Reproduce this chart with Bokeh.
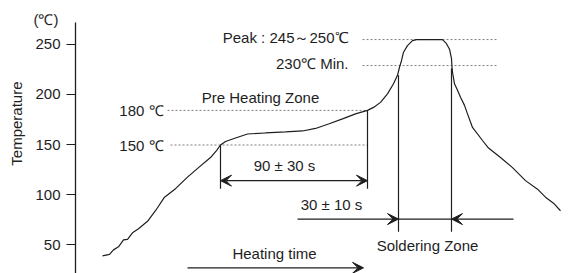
import math
from bokeh.plotting import figure
from bokeh.models import Range1d, FixedTicker, Arrow, VeeHead, Title
from bokeh.core.properties import value
from bokeh.embed import file_html
from bokeh.resources import INLINE

# ---- data (x in arbitrary time units, y in deg C) ----
curve_x = [102, 109, 113, 118, 123, 127, 132, 138, 147, 155, 164, 175, 187, 198, 210, 216, 220,
           225, 235, 247, 265, 285, 302, 315, 328, 342, 355, 367, 373, 380, 387, 393, 397, 399,
           401, 403, 407, 412, 416, 442, 446, 449, 451, 451.5, 452, 454, 457, 460, 464, 467,
           472, 482, 488, 500, 512, 525, 537, 545, 553, 560]
curve_t = [39, 40.5, 45, 48, 55, 55.5, 62, 66, 73.5, 84, 97.5, 106, 117.5, 127, 137, 144, 149.5,
           153, 156.5, 160.5, 161.5, 162.5, 163.5, 166, 170.5, 175.5, 180.5, 184, 187, 192, 200.5,
           210.5, 219, 227, 233.5, 242, 248.5, 253.5, 254.6, 254.6, 250.5, 245, 235.5, 227, 222,
           210.5, 204, 197, 189, 180.5, 167, 154, 146.5, 137, 127, 114, 105.5, 97.5, 91.5, 84]

y_ticks = [50, 100, 150, 200, 250]

# reference (dashed) levels
ref_x0 = [167, 170, 362, 362]
ref_x1 = [367, 367, 498, 498]
ref_t = [184, 149.5, 254.6, 228.7]

# vertical marker lines
vline_x = [220, 367, 398, 451]
vline_t0 = [149.5, 184, 219, 226]
vline_t1 = [106, 106, 63, 63]

# texts
txt_right = ["180 ℃", "150 ℃", "Peak : 245～250℃", "230℃ Min."]
txt_right_x = [163, 163, 348, 348]
txt_right_t = [184, 149.5, 256.3, 230.5]

txt_center = ["Pre Heating Zone", "90 ± 30 s", "30 ± 10 s", "Soldering Zone", "Heating time"]
txt_center_x = [260, 284, 331, 427, 274]
txt_center_t = [197.3, 129, 90.2, 49.4, 41]

FONT = "Liberation Sans"
FS = "15px"
INK = "#1e1e1e"

p = figure(width=579, height=273, output_backend="svg", toolbar_location=None,
           x_range=Range1d(75, 579), y_range=Range1d(21.45, 271.6),
           min_border_left=75, min_border_right=0, min_border_top=22, min_border_bottom=0)
p.outline_line_color = None
p.grid.visible = False
p.xaxis.visible = False

# unit title above the axis
p.title.text = "(℃)"
p.title.align = "left"
p.title.offset = -42
p.title.standoff = -10
p.title.vertical_align = "bottom"
p.title.text_font = FONT
p.title.text_font_size = FS
p.title.text_font_style = "normal"
p.title.text_color = INK

# axis name on the left side
p.add_layout(Title(text="Temperature", align="right", offset=59, standoff=12,
                   vertical_align="top", text_font=FONT, text_font_size=FS,
                   text_font_style="normal", text_color=INK), "left")

ax = p.yaxis[0]
ax.ticker = FixedTicker(ticks=y_ticks)
ax.minor_tick_line_color = None
ax.major_tick_in = 0
ax.major_tick_out = 9
ax.major_tick_line_color = INK
ax.major_tick_line_width = 1.2
ax.axis_line_color = INK
ax.axis_line_width = 1.3
ax.major_label_standoff = 6
ax.major_label_text_font = FONT
ax.major_label_text_font_size = FS
ax.major_label_text_color = INK

# dashed reference levels
p.segment(x0=ref_x0, y0=ref_t, x1=ref_x1, y1=ref_t, line_color="#808080",
          line_width=1, line_dash="2 2")

# profile curve
p.line(curve_x, curve_t, line_color=INK, line_width=1.2)

# vertical markers
p.segment(x0=vline_x, y0=vline_t0, x1=vline_x, y1=vline_t1, line_color=INK, line_width=1.2)

# soldering zone bar between the two markers
p.segment(x0=[398], y0=[75.7], x1=[451], y1=[75.7], line_color=INK, line_width=1.2)

def head():
    return VeeHead(size=11, fill_color=INK, line_color=INK, line_width=1)

p.add_layout(Arrow(start=head(), end=head(), x_start=220, y_start=114, x_end=367, y_end=114,
                   line_color=INK, line_width=1.2))
p.add_layout(Arrow(start=None, end=head(), x_start=297, y_start=75.7, x_end=398, y_end=75.7,
                   line_color=INK, line_width=1.2))
p.add_layout(Arrow(start=None, end=head(), x_start=513, y_start=75.7, x_end=451, y_end=75.7,
                   line_color=INK, line_width=1.2))
p.add_layout(Arrow(start=None, end=head(), x_start=187, y_start=27.1, x_end=363, y_end=27.1,
                   line_color=INK, line_width=1.2))

p.text(x=txt_right_x, y=txt_right_t, text=txt_right, text_align="right", text_baseline="middle",
       text_font=value(FONT), text_font_size=value(FS), text_color=INK)
p.text(x=txt_center_x, y=txt_center_t, text=txt_center, text_align="center", text_baseline="middle",
       text_font=value(FONT), text_font_size=value(FS), text_color=INK)

open("out.html", "w").write(file_html(p, INLINE))
